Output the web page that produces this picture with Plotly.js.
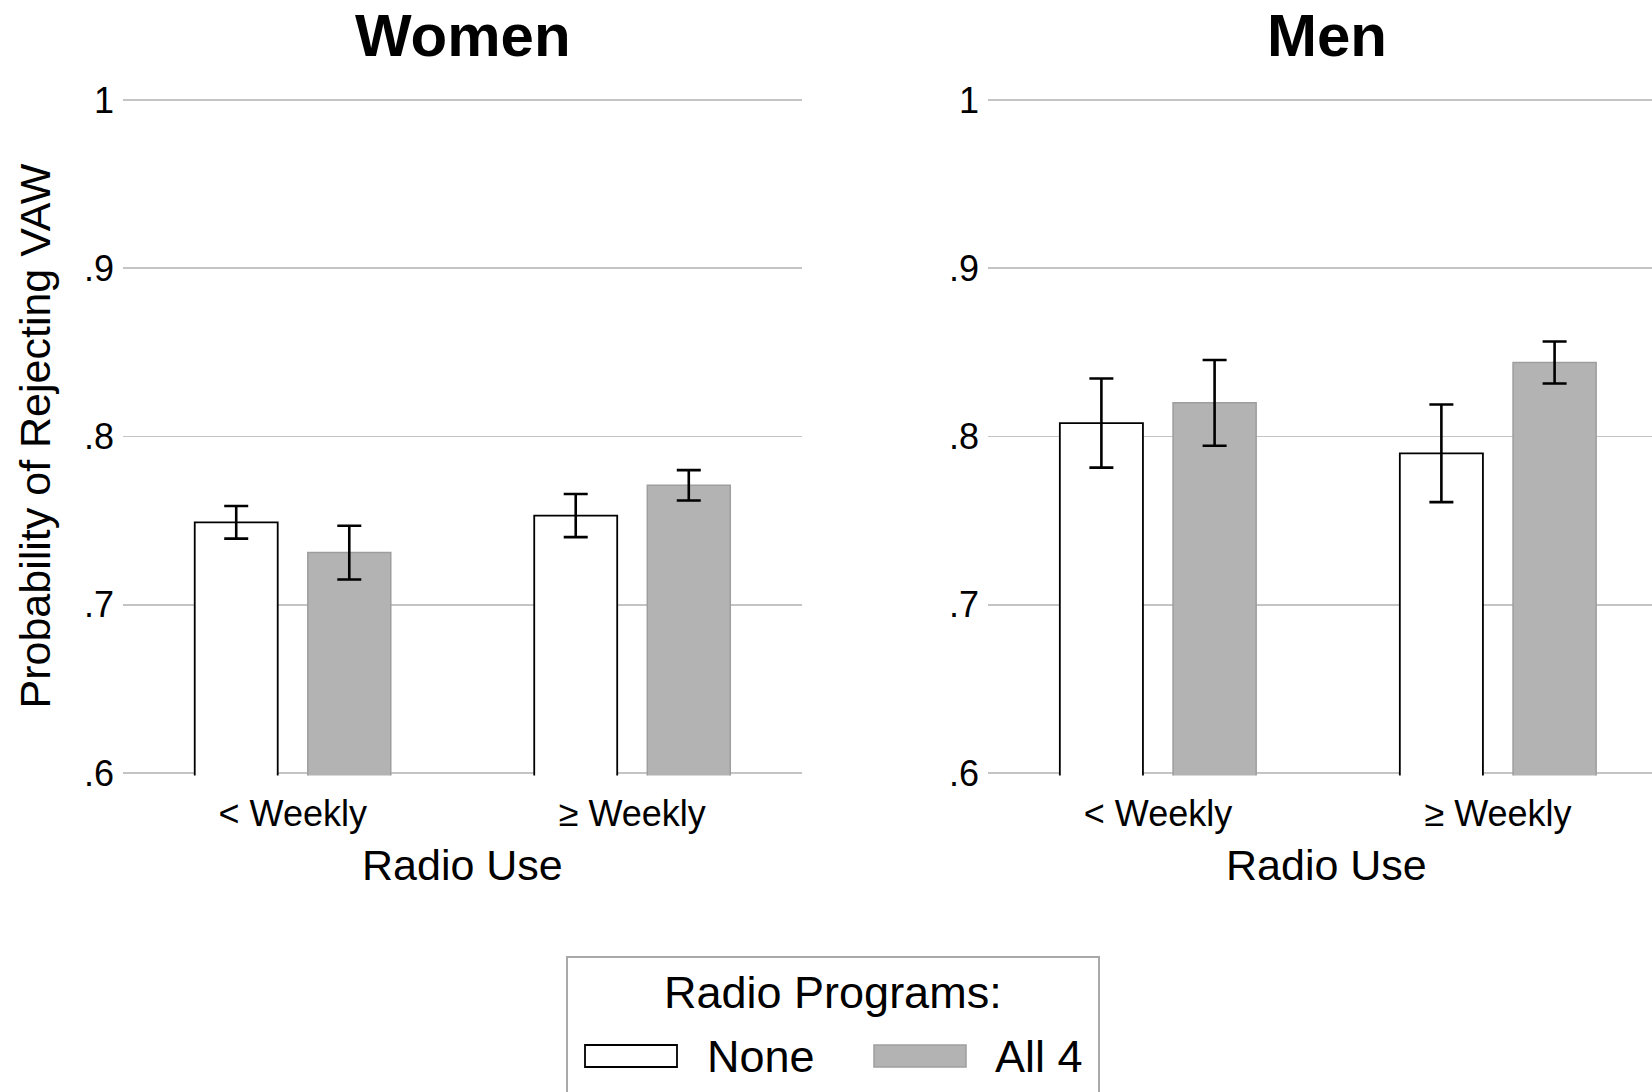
<!DOCTYPE html>
<html>
<head>
<meta charset="utf-8">
<script src="https://cdn.plot.ly/plotly-3.0.1.min.js"></script>
<style>
  html, body { margin: 0; padding: 0; background: #ffffff; }
  #chart { width: 1652px; height: 1092px; }
</style>
</head>
<body>
<div id="chart"></div>
<script>
// Radio use categories and program-exposure groups
const categories = ['< Weekly', '≥ Weekly'];
const groupNames = ['None', 'All 4'];
const panelNames = ['Women', 'Men'];

// Predicted probability of rejecting VAW, with 95% CI half-widths
const womenNone = [0.749, 0.753];
const womenNoneErr = [0.0097, 0.0128];
const womenAll4 = [0.731, 0.771];
const womenAll4Err = [0.016, 0.009];

const menNone = [0.808, 0.790];
const menNoneErr = [0.0265, 0.029];
const menAll4 = [0.820, 0.844];
const menAll4Err = [0.0255, 0.0125];

const yTickVals = [0.6, 0.7, 0.8, 0.9, 1];
const yTickText = ['.6', '.7', '.8', '.9', '1'];

// Page geometry helpers (page pixels -> paper fractions)
const W = 1652, H = 1092;
const fx = p => p / W;
const fy = p => 1 - p / H;

const FONT = 'Liberation Sans, Arial, Helvetica, sans-serif';

const noneStyle = { color: '#ffffff', line: { color: '#000000', width: 1.8 } };
const all4Style = { color: '#b3b3b3', line: { color: '#9e9e9e', width: 1.5 } };
const errStyle = (arr) => ({ type: 'data', array: arr, visible: true, color: '#000000', thickness: 2.6, width: 12 });

function barTrace(name, y, err, style, xa, ya) {
  return {
    type: 'bar', name: name, x: categories, y: y,
    marker: style, error_y: errStyle(err),
    xaxis: xa, yaxis: ya, showlegend: false, hoverinfo: 'skip'
  };
}

const data = [
  barTrace(groupNames[0], womenNone, womenNoneErr, noneStyle, 'x', 'y'),
  barTrace(groupNames[1], womenAll4, womenAll4Err, all4Style, 'x', 'y'),
  barTrace(groupNames[0], menNone, menNoneErr, noneStyle, 'x2', 'y2'),
  barTrace(groupNames[1], menAll4, menAll4Err, all4Style, 'x2', 'y2')
];

// value 1 sits at y=100px and .6 at y=773px; pad the range a hair so the
// end gridlines are still drawn
const pxPerUnit = (773 - 100) / 0.4;
const pad = 0.0015;
const yRange = [0.6 - pad, 1.0 + pad];
const yDomain = [fy(773 + pad * pxPerUnit), fy(100 - pad * pxPerUnit)];

const yAxisBase = {
  range: yRange,
  domain: yDomain,
  tickvals: yTickVals,
  ticktext: yTickText,
  showgrid: true,
  gridcolor: '#c4c4c4',
  gridwidth: 1.6,
  zeroline: false,
  showline: false,
  ticks: '',
  ticklabelstandoff: 8,
  tickfont: { family: FONT, size: 36, color: '#000000' },
  fixedrange: true
};

const xAxisBase = {
  type: 'category',
  showgrid: false,
  zeroline: false,
  showline: false,
  ticks: '',
  ticklabelstandoff: 13,
  tickfont: { family: FONT, size: 36, color: '#000000' },
  fixedrange: true
};

const layout = {
  width: W, height: H,
  margin: { l: 0, r: 0, t: 0, b: 0, pad: 0 },
  paper_bgcolor: '#ffffff',
  plot_bgcolor: '#ffffff',
  barmode: 'group',
  bargap: 0.334,
  bargroupgap: 0.266,
  font: { family: FONT, color: '#000000' },
  xaxis: Object.assign({}, xAxisBase, { domain: [fx(123), fx(802)], range: [-0.5, 1.5], anchor: 'y' }),
  yaxis: Object.assign({}, yAxisBase, { anchor: 'x' }),
  xaxis2: Object.assign({}, xAxisBase, { domain: [fx(988), 1], range: [-0.5, 1.453], anchor: 'y2' }),
  yaxis2: Object.assign({}, yAxisBase, { anchor: 'x2' }),
  shapes: [
    // legend frame (runs off the bottom of the page)
    { type: 'rect', xref: 'paper', yref: 'paper', x0: fx(567), x1: fx(1099), y0: fy(957), y1: fy(1110),
      line: { color: '#a9a9a9', width: 2 }, fillcolor: 'rgba(0,0,0,0)' },
    // legend key: None
    { type: 'rect', xref: 'paper', yref: 'paper', x0: fx(585), x1: fx(677), y0: fy(1045), y1: fy(1067),
      line: { color: '#000000', width: 1.8 }, fillcolor: '#ffffff' },
    // legend key: All 4
    { type: 'rect', xref: 'paper', yref: 'paper', x0: fx(874), x1: fx(966), y0: fy(1045), y1: fy(1067),
      line: { color: '#9e9e9e', width: 1.5 }, fillcolor: '#b3b3b3' }
  ],
  annotations: [
    { text: '<b>' + panelNames[0] + '</b>', xref: 'paper', yref: 'paper', x: fx(462.5), y: fy(35),
      xanchor: 'center', yanchor: 'middle', showarrow: false, font: { family: FONT, size: 60, color: '#000000' } },
    { text: '<b>' + panelNames[1] + '</b>', xref: 'paper', yref: 'paper', x: fx(1326.5), y: fy(35),
      xanchor: 'center', yanchor: 'middle', showarrow: false, font: { family: FONT, size: 60, color: '#000000' } },
    { text: 'Radio Use', xref: 'paper', yref: 'paper', x: fx(462.5), y: fy(865),
      xanchor: 'center', yanchor: 'middle', showarrow: false, font: { family: FONT, size: 43, color: '#000000' } },
    { text: 'Radio Use', xref: 'paper', yref: 'paper', x: fx(1326.5), y: fy(865),
      xanchor: 'center', yanchor: 'middle', showarrow: false, font: { family: FONT, size: 43, color: '#000000' } },
    { text: 'Probability of Rejecting VAW', xref: 'paper', yref: 'paper', x: fx(34), y: fy(436.5),
      xanchor: 'center', yanchor: 'middle', textangle: -90, showarrow: false, font: { family: FONT, size: 43, color: '#000000' } },
    { text: 'Radio Programs:', xref: 'paper', yref: 'paper', x: fx(833), y: fy(992),
      xanchor: 'center', yanchor: 'middle', showarrow: false, font: { family: FONT, size: 45, color: '#000000' } },
    { text: groupNames[0], xref: 'paper', yref: 'paper', x: fx(705), y: fy(1056),
      xanchor: 'left', yanchor: 'middle', showarrow: false, font: { family: FONT, size: 45, color: '#000000' } },
    { text: groupNames[1], xref: 'paper', yref: 'paper', x: fx(993), y: fy(1056),
      xanchor: 'left', yanchor: 'middle', showarrow: false, font: { family: FONT, size: 45, color: '#000000' } }
  ]
};

Plotly.newPlot('chart', data, layout, { displayModeBar: false, staticPlot: true });
</script>
</body>
</html>
